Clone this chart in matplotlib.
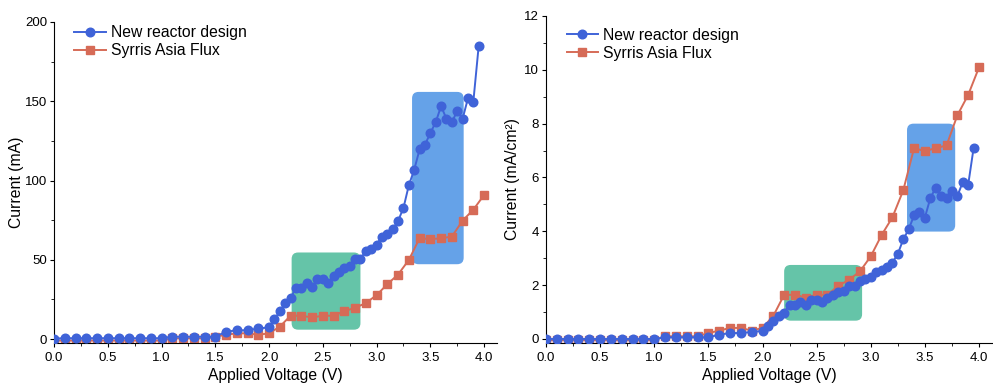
import numpy as np
import matplotlib.pyplot as plt
from matplotlib.patches import FancyBboxPatch
from matplotlib.ticker import MultipleLocator, AutoMinorLocator

plt.rcParams["font.family"] = ["Liberation Sans", "DejaVu Sans"]

# voltage grids
v_new = [0.0, 0.1, 0.2, 0.3, 0.4, 0.5, 0.6, 0.7, 0.8, 0.9, 1.0, 1.1, 1.2, 1.3, 1.4,
         1.5, 1.6, 1.7, 1.8, 1.9, 2.0, 2.05, 2.1, 2.15, 2.2, 2.25, 2.3, 2.35, 2.4,
         2.45, 2.5, 2.55, 2.6, 2.65, 2.7, 2.75, 2.8, 2.85, 2.9, 2.95, 3.0, 3.05,
         3.1, 3.15, 3.2, 3.25, 3.3, 3.35, 3.4, 3.45, 3.5, 3.55, 3.6, 3.65, 3.7,
         3.75, 3.8, 3.85, 3.9, 3.95]
v_syr = [0.0, 0.1, 0.2, 0.3, 0.4, 0.5, 0.6, 0.7, 0.8, 0.9, 1.0, 1.1, 1.2, 1.3, 1.4,
         1.5, 1.6, 1.7, 1.8, 1.9, 2.0, 2.1, 2.2, 2.3, 2.4, 2.5, 2.6, 2.7, 2.8, 2.9,
         3.0, 3.1, 3.2, 3.3, 3.4, 3.5, 3.6, 3.7, 3.8, 3.9, 4.0]

# current (mA)
i_new = [0.3, 0.5, 0.5, 0.5, 0.5, 0.5, 0.5, 0.5, 0.5, 0.5, 0.5, 1.5, 1.5, 1.5, 1.5,
         1.5, 4.6, 5.5, 5.5, 6.7, 7.3, 12.6, 17.4, 22.7, 25.6, 32.5, 32.5, 35.5,
         32.7, 37.6, 37.8, 35.5, 39.7, 42.4, 44.5, 45.8, 50.8, 50.8, 55.4, 57.1,
         59.6, 64.6, 66.3, 69.3, 74.5, 82.7, 97.0, 106.8, 119.6, 122.6, 129.9,
         136.8, 146.9, 138.9, 136.8, 143.8, 138.9, 151.9, 149.8, 185.1]
i_syr = [-1.0, -1.0, -1.0, -1.0, -1.0, -1.0, -1.0, -1.0, -1.0, -1.0, -1.0, 0.4, 0.4,
         0.4, 0.4, 1.5, 2.7, 3.6, 3.6, 2.7, 3.6, 7.8, 14.7, 14.7, 13.6, 14.7, 14.7,
         17.6, 19.7, 22.7, 27.7, 34.6, 40.7, 49.9, 63.6, 63.0, 63.6, 64.6, 74.7,
         81.6, 90.9]

# current density (mA/cm2)
j_new = [0.0, 0.0, 0.0, 0.0, 0.0, 0.0, 0.0, 0.0, 0.0, 0.0, 0.0, 0.06, 0.06, 0.06,
         0.06, 0.06, 0.16, 0.22, 0.22, 0.26, 0.3, 0.47, 0.67, 0.86, 0.98, 1.26,
         1.26, 1.36, 1.27, 1.46, 1.46, 1.36, 1.54, 1.65, 1.73, 1.77, 1.95, 1.95,
         2.15, 2.22, 2.3, 2.49, 2.56, 2.67, 2.84, 3.16, 3.7, 4.07, 4.59, 4.72,
         4.51, 5.23, 5.62, 5.3, 5.23, 5.5, 5.31, 5.83, 5.73, 7.09]
j_syr = [-0.05, -0.05, -0.05, -0.05, -0.05, -0.05, -0.05, -0.05, -0.05, -0.05, -0.05,
         0.1, 0.1, 0.1, 0.1, 0.22, 0.31, 0.41, 0.41, 0.31, 0.41, 0.86, 1.64, 1.64,
         1.54, 1.64, 1.64, 1.98, 2.2, 2.51, 3.07, 3.86, 4.52, 5.52, 7.09, 6.98,
         7.09, 7.19, 8.31, 9.07, 10.09]

# highlight boxes: (x0, x1, y0, y1)
boxes_ma = [(2.21, 2.85, 5.9, 54.6), (3.33, 3.81, 47.2, 155.9)]
boxes_cm2 = [(2.20, 2.92, 0.68, 2.75), (3.335, 3.78, 3.99, 8.0)]
box_colors = ["#65c4a8", "#65a2e8"]

blue = "#3f63d8"
red = "#d66b57"

fig = plt.figure(figsize=(9.93, 3.88), dpi=100)
ax1 = fig.add_axes([54 / 993, 45 / 388, 443 / 993, 321 / 388])
ax2 = fig.add_axes([546 / 993, 45 / 388, 446 / 993, 327 / 388])


def draw(ax, yn, ys, boxes, ylim, major, ylabel, leg_y, lab_x):
    ax.set_xlim(0, 4.12)
    ax.set_ylim(*ylim)
    fig.canvas.draw()
    bb = ax.get_window_extent()
    px_x = bb.width / (4.12 - 0)
    px_y = bb.height / (ylim[1] - ylim[0])
    r = 6.5 / px_x
    for (x0, x1, y0, y1), c in zip(boxes, box_colors):
        p = FancyBboxPatch((x0, y0), x1 - x0, y1 - y0,
                           boxstyle=f"round,pad=0,rounding_size={r}",
                           mutation_aspect=px_x / px_y,
                           facecolor=c, edgecolor="none", zorder=1)
        ax.add_patch(p)
    ax.plot(v_new, yn, "-o", color=blue, ms=6.2, lw=1.4, zorder=3,
            label="New reactor design")
    ax.plot(v_syr, ys, "-s", color=red, ms=5.2, lw=1.4, zorder=2,
            label="Syrris Asia Flux")
    ax.spines[["top", "right"]].set_visible(False)
    ax.xaxis.set_major_locator(MultipleLocator(0.5))
    ax.xaxis.set_minor_locator(AutoMinorLocator(2))
    ax.yaxis.set_major_locator(MultipleLocator(major))
    ax.yaxis.set_minor_locator(AutoMinorLocator(2))
    ax.tick_params(which="both", direction="out", labelsize=9.5)
    ax.tick_params(axis="y", pad=2)
    ax.tick_params(which="major", length=3)
    ax.tick_params(which="minor", length=2)
    ax.set_xlabel("Applied Voltage (V)", fontsize=11.3, labelpad=3)
    ax.set_ylabel(ylabel, fontsize=11.3)
    ax.yaxis.set_label_coords(lab_x, 0.5)
    ax.legend(loc="upper left", frameon=False, fontsize=11.3,
              bbox_to_anchor=(0.025, leg_y), handlelength=2.0,
              handletextpad=0.3, labelspacing=0.2, borderaxespad=0.2)


draw(ax1, i_new, i_syr, boxes_ma, (-2.5, 200), 50, "Current (mA)", 1.02, -0.068)
draw(ax2, j_new, j_syr, boxes_cm2, (-0.15, 12), 2, "Current (mA/cm²)", 0.993, -0.058)
ax1.set_xticks(np.arange(0, 4.01, 0.5))
ax2.set_xticks(np.arange(0, 4.01, 0.5))
ax1.xaxis.set_major_formatter(plt.FormatStrFormatter("%.1f"))
ax2.xaxis.set_major_formatter(plt.FormatStrFormatter("%.1f"))

fig.savefig("out.png", dpi=100)
